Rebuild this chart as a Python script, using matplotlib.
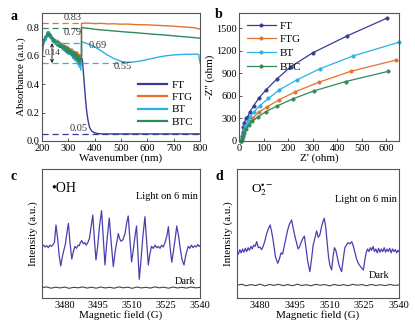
import numpy as np
import matplotlib
matplotlib.use("Agg")
import matplotlib.pyplot as plt

plt.rcParams['font.family'] = ['Liberation Serif', 'DejaVu Serif']
plt.rcParams['mathtext.fontset'] = 'stix'

# ---------------- data: panel a (UV-vis) ----------------
series_names = ["FT", "FTG", "BT", "BTC"]
wl_uv = np.arange(200, 351, 3)
ft_uv = [0.60,0.67,0.68,0.72,0.71,0.74,0.73,0.76,0.75,0.77,0.75,0.75,0.73,0.73,0.71,0.72,0.70,0.71,0.69,0.71,
         0.69,0.70,0.68,0.69,0.67,0.68,0.66,0.68,0.66,0.67,0.65,0.66,0.64,0.66,0.63,0.65,0.63,0.64,0.62,0.63,
         0.61,0.63,0.60,0.62,0.59,0.61,0.59,0.60,0.57,0.59,0.56]
ftg_uv = [0.63,0.66,0.70,0.71,0.73,0.72,0.75,0.74,0.77,0.75,0.76,0.74,0.74,0.72,0.73,0.71,0.72,0.70,0.71,0.69,
          0.71,0.68,0.70,0.68,0.69,0.67,0.69,0.66,0.68,0.66,0.67,0.65,0.67,0.64,0.66,0.64,0.65,0.63,0.65,0.62,
          0.64,0.61,0.63,0.60,0.63,0.59,0.62,0.58,0.61,0.57,0.60]
bt_uv = [0.55,0.63,0.70,0.69,0.73,0.71,0.76,0.73,0.77,0.74,0.76,0.72,0.75,0.70,0.73,0.69,0.72,0.68,0.71,0.67,
         0.70,0.67,0.69,0.66,0.69,0.65,0.68,0.64,0.67,0.63,0.67,0.62,0.66,0.61,0.65,0.61,0.64,0.60,0.64,0.58,
         0.63,0.57,0.62,0.56,0.61,0.54,0.60,0.52,0.59,0.50,0.58]
btc_uv = [0.70,0.67,0.72,0.70,0.74,0.73,0.75,0.77,0.74,0.76,0.73,0.75,0.72,0.73,0.70,0.72,0.69,0.71,0.68,0.70,
          0.67,0.70,0.66,0.69,0.66,0.68,0.65,0.67,0.64,0.67,0.63,0.66,0.62,0.66,0.62,0.65,0.61,0.64,0.60,0.63,
          0.59,0.63,0.58,0.62,0.57,0.61,0.55,0.60,0.54,0.59,0.57]

ft_wl_vis = [353,356,359,362,365,368,371,374,377,380,385,390,400,410,430,500,600,700,800]
ft_vis = [0.58,0.51,0.44,0.37,0.30,0.24,0.19,0.155,0.125,0.10,0.08,0.068,0.058,0.053,0.05,0.05,0.05,0.05,0.05]
ftg_wl_vis = [350,375,400,425,450,475,500,525,550,575,600,625,650,675,700,725,750,775,800]
ftg_vis = [0.83,0.832,0.828,0.83,0.826,0.827,0.824,0.825,0.822,0.82,0.82,0.817,0.815,0.812,0.81,0.806,0.803,0.80,0.79]
btc_wl_vis = [350,375,400,425,450,475,500,525,550,575,600,625,650,675,700,725,750,775,800]
btc_vis = [0.80,0.795,0.788,0.784,0.78,0.776,0.772,0.768,0.765,0.761,0.757,0.753,0.75,0.746,0.742,0.738,0.734,0.73,0.725]
bt_wl_vis = [350,360,375,400,425,450,475,500,525,550,575,600,625,650,675,700,725,750,775,795,800]
bt_vis = [0.70,0.695,0.685,0.665,0.635,0.605,0.58,0.562,0.555,0.558,0.565,0.575,0.585,0.595,0.602,0.607,0.61,0.612,0.612,0.612,0.55]

ref_values = [0.83, 0.79, 0.69, 0.55, 0.05]
ref_labels = ["0.83", "0.79", "0.69", "0.55", "0.05"]
gap_label = "0.14"

# ---------------- data: panel b (Nyquist) ----------------
ft_z = [10,12,15,18,22,28,35,45,60,80,110,155,210,300,440,605]
ft_zi = [0,60,120,180,240,300,320,390,470,565,680,825,985,1170,1395,1635]
ftg_z = [10,13,17,22,30,42,58,80,115,165,230,325,455,640]
ftg_zi = [0,40,90,140,195,250,310,380,455,550,655,780,925,1075]
bt_z = [10,12,15,20,25,35,45,62,85,120,165,235,330,465,650]
bt_zi = [0,30,80,140,200,260,320,390,470,565,680,810,960,1130,1310]
btc_z = [10,12,15,20,28,40,55,78,110,155,220,305,435,608]
btc_zi = [0,20,60,110,160,210,265,320,390,465,560,665,790,925]

# ---------------- data: panels c, d (EPR) ----------------
oh_field = [3470,3470.7,3471.4,3472.1,3472.8,3473.5,3474.2,3474.9,3475.5,3476.2,3477.0,3477.6,3478.3,3479.0,3479.7,
            3480.4,3481.0,3481.7,3482.4,3483.2,3483.9,3484.6,3485.3,3486.0,3486.5,3487.0,3487.6,3488.3,3489.0,3489.6,
            3490.3,3491.0,3491.8,3492.5,3493.2,3493.9,3494.6,3495.5,3496.4,3497.2,3497.9,3498.7,3499.8,3500.7,3501.6,
            3502.4,3503.1,3503.8,3504.4,3505.0,3505.8,3506.8,3507.5,3508.2,3509.0,3509.7,3510.5,3511.2,3511.9,3512.5,
            3513.1,3513.8,3514.6,3515.6,3516.4,3517.1,3517.8,3518.5,3519.3,3520.1,3520.8,3521.5,3522.3,3523.0,3523.7,
            3524.5,3525.3,3526.0,3526.7,3527.5,3528.2,3529.0,3529.7,3530.5,3531.3,3532.0,3532.9,3533.8,3534.8,3535.5,
            3536.2,3536.9,3537.6,3538.3,3539.0,3539.6,3540]
oh_intensity = [4.0,4.1,3.95,4.05,3.9,4.1,4.0,4.15,4.3,5.66,4.5,3.3,2.48,3.2,3.72,
                4.2,5.0,5.79,4.3,3.02,3.6,4.0,3.85,4.1,4.05,4.3,4.45,4.2,4.3,4.1,
                4.3,4.6,5.6,6.43,4.6,2.95,3.9,5.6,6.77,4.5,2.56,4.3,6.2,4.2,2.43,
                3.6,4.3,5.0,4.6,4.4,4.5,5.0,5.8,6.36,4.4,2.8,3.8,4.8,5.58,3.5,
                1.45,2.8,4.6,6.3,4.3,2.56,3.4,4.0,3.85,4.1,3.9,4.0,3.85,4.1,3.95,
                4.3,4.8,5.53,4.0,2.77,3.6,4.6,5.58,4.8,3.8,3.0,2.56,3.4,4.0,3.85,
                4.1,3.9,4.05,3.95,4.15,4.0,4.05]
o2_field = [3470,3470.6,3471.2,3471.8,3472.4,3473.0,3473.6,3474.2,3474.8,3475.4,3476.0,3476.6,3477.2,3477.8,3478.5,
            3479.2,3479.9,3480.6,3481.3,3482.0,3482.7,3483.4,3484.3,3484.9,3485.5,3486.0,3486.6,3487.6,3488.3,3489.0,
            3489.7,3490.4,3491.1,3491.8,3492.6,3493.6,3494.3,3495.0,3495.7,3496.4,3497.1,3497.7,3498.4,3499.1,3499.8,
            3500.5,3501.5,3502.2,3502.9,3503.6,3504.4,3505.1,3505.8,3506.5,3507.1,3507.7,3508.4,3509.0,3509.6,3510.2,
            3510.9,3511.5,3512.1,3512.7,3513.3,3514.0,3514.6,3515.2,3515.9,3516.6,3517.3,3518.0,3518.8,3519.6,3520.3,
            3521.0,3521.7,3522.4,3523.1,3524.0,3524.6,3525.2,3525.8,3526.4,3527.0,3527.6,3528.2,3528.8,3529.4,3530.0,
            3530.6,3531.2,3531.8,3532.4,3533.0,3533.6,3534.2,3534.8,3535.4,3536.0,3536.6,3537.2,3537.8,3538.4,3539.0,
            3539.6,3540]
o2_intensity = [3.6,3.4,3.75,3.5,3.8,3.55,3.85,3.6,3.9,3.7,4.0,3.8,4.1,4.0,4.37,
                3.9,3.95,3.75,4.0,4.4,4.9,5.3,5.66,5.2,4.6,4.0,3.2,2.69,3.0,3.5,
                3.4,4.0,4.6,5.2,5.7,6.05,5.4,4.8,4.3,3.8,4.0,4.3,4.6,4.8,3.9,
                2.9,2.04,3.0,4.1,4.6,5.2,4.7,4.9,5.5,5.9,6.18,5.4,4.2,3.1,2.5,
                2.17,3.2,3.9,3.7,3.2,2.6,2.3,2.04,3.0,3.9,4.1,4.3,4.2,4.37,4.0,
                3.5,3.0,2.7,2.5,2.3,2.17,2.9,3.5,3.8,3.6,3.9,3.7,4.0,3.6,3.8,
                3.5,3.85,3.55,3.8,3.6,3.9,3.55,3.8,3.6,3.85,3.5,3.8,3.6,3.75,3.5,
                3.7,3.6]
dark_field = [3470,3472,3474,3476,3478,3480,3482,3484,3486,3488,3490,3492,3494,3496,3498,3500,3502,3504,
              3506,3508,3510,3512,3514,3516,3518,3520,3522,3524,3526,3528,3530,3532,3534,3536,3538,3540]
dark_c = [0.80,0.86,0.76,0.84,0.78,0.85,0.75,0.83,0.79,0.86,0.77,0.84,0.76,0.85,0.78,0.83,0.76,0.86,
          0.79,0.84,0.75,0.85,0.78,0.83,0.77,0.86,0.79,0.84,0.76,0.85,0.78,0.83,0.77,0.85,0.79,0.82]
dark_d = [1.00,1.06,0.95,1.04,0.97,1.07,0.94,1.05,0.98,1.06,0.96,1.04,0.95,1.07,0.97,1.03,0.95,1.06,
          0.99,1.04,0.94,1.05,0.97,1.03,0.96,1.06,0.99,1.04,0.95,1.05,0.97,1.03,0.96,1.05,0.98,1.01]

# ---------------- styling ----------------
C_FT, C_FTG, C_BT, C_BTC = "#363c96", "#e5722c", "#2ab3e3", "#2f8a5a"
C_EPR = "#4a3fae"
SPINE = "#555555"
FS = 7.5

W, H = 415, 330
fig = plt.figure(figsize=(W/100, H/100), dpi=100)

def px_axes(l, t, r, b):
    return fig.add_axes([l/W, 1 - b/H, (r - l)/W, (b - t)/H])

def style(ax):
    for s in ax.spines.values():
        s.set_color(SPINE)
        s.set_linewidth(0.8)
    ax.tick_params(direction='in', length=2.5, width=0.7, color=SPINE,
                   labelsize=FS, pad=1.5)
    ax.tick_params(axis='x', pad=2.5)

# ---------- panel a ----------
axa = px_axes(42, 13, 200, 141)
style(axa)
axa.plot(list(wl_uv) + ft_wl_vis, ft_uv + ft_vis, color=C_FT, lw=1.0, label="FT")
axa.plot(list(wl_uv) + ftg_wl_vis, ftg_uv + ftg_vis, color=C_FTG, lw=1.0, label="FTG")
axa.plot(list(wl_uv) + bt_wl_vis, bt_uv + bt_vis, color=C_BT, lw=1.0, label="BT")
axa.plot(list(wl_uv) + btc_wl_vis, btc_uv + btc_vis, color=C_BTC, lw=1.0, label="BTC")
dash = (0, (5, 3))
axa.hlines(ref_values[0], 200, 350, colors=C_FTG, linestyles=dash, lw=0.9)
axa.hlines(0.80, 200, 350, colors=C_BTC, linestyles=dash, lw=0.9)
axa.hlines(ref_values[2], 242, 350, colors=C_BT, linestyles=dash, lw=0.9)
axa.hlines(ref_values[3], 200, 520, colors=C_BT, linestyles=dash, lw=0.9)
axa.hlines(ref_values[4], 200, 800, colors=C_FT, linestyles=dash, lw=0.9)
axa.annotate("", xy=(238, ref_values[2]), xytext=(238, ref_values[3]),
             arrowprops=dict(arrowstyle="<->", color="black", lw=0.6,
                             mutation_scale=5, shrinkA=0, shrinkB=0))
axa.text(240, 0.62, gap_label, fontsize=6.5, ha='center', va='center', color="#333333")
axa.text(318, 0.838, ref_labels[0], fontsize=FS, ha='center', va='bottom', color="#333333")
axa.text(318, 0.765, ref_labels[1], fontsize=FS, ha='center', va='center', color="#333333")
axa.text(410, 0.673, ref_labels[2], fontsize=FS, ha='center', va='center', color="#333333")
axa.text(505, 0.528, ref_labels[3], fontsize=FS, ha='center', va='center', color="#333333")
axa.text(338, 0.058, ref_labels[4], fontsize=FS, ha='center', va='bottom', color="#333333")
axa.set_xlim(200, 800)
axa.set_ylim(0, 0.903)
axa.set_xticks([200, 300, 400, 500, 600, 700, 800])
axa.set_yticks([0.0, 0.2, 0.4, 0.6, 0.8])
axa.set_yticklabels(["0.0", "0.2", "0.4", "0.6", "0.8"])
axa.set_xlabel("Wavenumber (nm)", fontsize=FS+0.5, labelpad=0)
axa.set_ylabel("Absorbance (a.u.)", fontsize=FS+0.5, labelpad=1)
leg = axa.legend(loc='lower right', bbox_to_anchor=(1.0, 0.06), frameon=False,
                 fontsize=FS+0.5, handlelength=2.6, labelspacing=0.22,
                 handletextpad=0.4, borderaxespad=0.2)
for l in leg.get_lines():
    l.set_linewidth(1.6)
fig.text(10/W, 1 - 16/H, "a", fontsize=10, fontweight='bold', va='center')

# ---------- panel b ----------
axb = px_axes(239, 13, 399, 141)
style(axb)
for xs, ys, c, n in [(ft_z, ft_zi, C_FT, "FT"), (ftg_z, ftg_zi, C_FTG, "FTG"),
                     (bt_z, bt_zi, C_BT, "BT"), (btc_z, btc_zi, C_BTC, "BTC")]:
    axb.plot(xs, ys, color=c, lw=0.9, marker='o', ms=2.4, mec=c, mfc=c,
             mew=0.5, label=n, clip_on=False)
axb.set_xlim(0, 652)
axb.set_ylim(0, 1700)
axb.set_xticks([0, 100, 200, 300, 400, 500, 600])
axb.set_yticks([0, 300, 600, 900, 1200, 1500])
axb.set_xlabel("Z' (ohm)", fontsize=FS+0.5, labelpad=0)
axb.set_ylabel("-Z'' (ohm)", fontsize=FS+0.5, labelpad=1)
axb.legend(loc='upper left', frameon=False, fontsize=FS+0.5, handlelength=2.6,
           labelspacing=0.35, handletextpad=0.4, borderaxespad=0.3)
fig.text(215/W, 1 - 14/H, "b", fontsize=10, fontweight='bold', va='center')

# ---------- panel c ----------
axc = px_axes(42, 169, 200, 298)
style(axc)
axc.plot(oh_field, oh_intensity, color=C_EPR, lw=0.9)
axc.plot(dark_field, dark_c, color="#444444", lw=0.8)
axc.set_xlim(3470, 3540)
axc.set_ylim(0, 10)
axc.set_xticks([3480, 3495, 3510, 3525, 3540])
axc.set_yticks([])
axc.tick_params(axis='x', length=0)
axc.set_xlabel("Magnetic field (G)", fontsize=FS+0.5, labelpad=0)
axc.set_ylabel("Intensity (a.u.)", fontsize=FS+0.5, labelpad=3)
axc.text(3474, 8.45, "\u2022OH", fontsize=10, ha='left', va='center')
axc.text(3539, 7.85, "Light on 6 min", fontsize=FS, ha='right', va='center')
axc.text(3538, 1.3, "Dark", fontsize=FS, ha='right', va='center')
fig.text(10/W, 1 - 177/H, "c", fontsize=10, fontweight='bold', va='center')

# ---------- panel d ----------
axd = px_axes(237, 169, 399, 298)
style(axd)
axd.plot(o2_field, o2_intensity, color=C_EPR, lw=0.9)
axd.plot(dark_field, dark_d, color="#444444", lw=0.8)
axd.set_xlim(3470, 3540)
axd.set_ylim(0, 10)
axd.set_xticks([3480, 3495, 3510, 3525, 3540])
axd.set_yticks([])
axd.tick_params(axis='x', length=0)
axd.set_xlabel("Magnetic field (G)", fontsize=FS+0.5, labelpad=0)
axd.set_ylabel("Intensity (a.u.)", fontsize=FS+0.5, labelpad=3)
axd.text(3476, 8.4, "O$_2^{\\bullet-}$", fontsize=9.5, ha='left', va='center')
axd.text(3539, 7.6, "Light on 6 min", fontsize=FS, ha='right', va='center')
axd.text(3536, 1.75, "Dark", fontsize=FS, ha='right', va='center')
fig.text(215/W, 1 - 177/H, "d", fontsize=10, fontweight='bold', va='center')

fig.savefig("out.png", dpi=100)
